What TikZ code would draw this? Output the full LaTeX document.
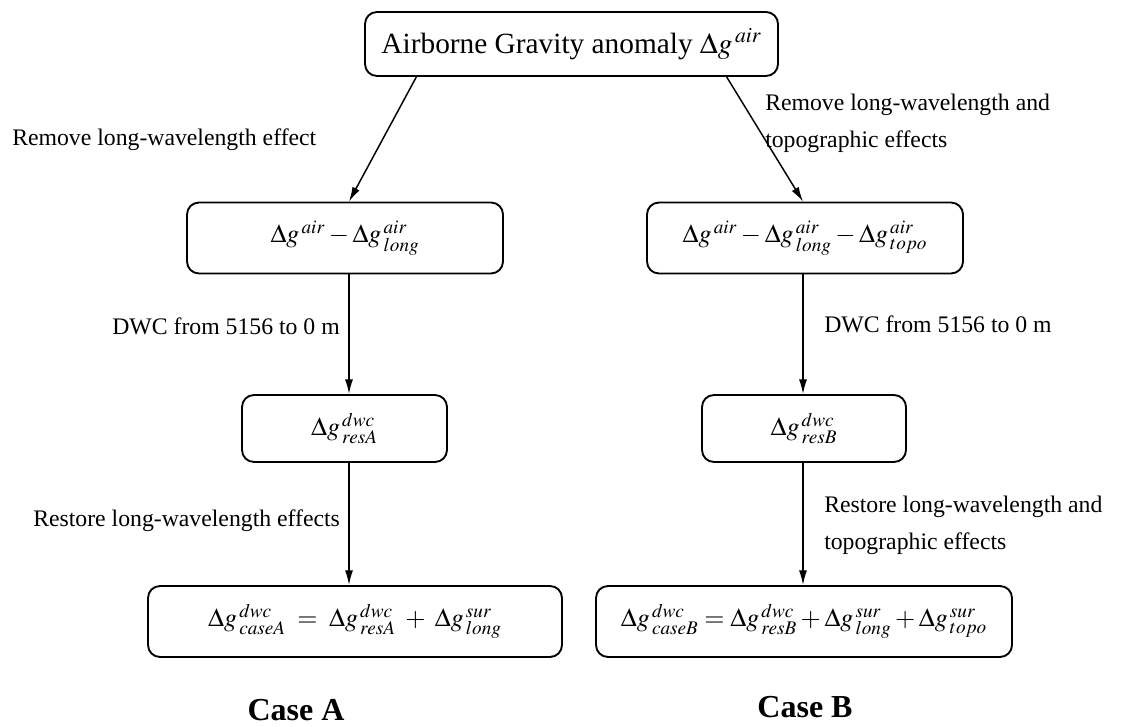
\documentclass[tikz,border=0pt]{standalone}
\usepackage{mathptmx}
\usepackage[no-math]{fontspec}
\setmainfont{Liberation Serif}
\usetikzlibrary{calc,arrows.meta}

\begin{document}
\begin{tikzpicture}[x=0.75pt,y=0.75pt,yscale=-1,
  box/.style={draw, line width=1.4pt, rounded corners=9pt, inner sep=0pt, font=\fontsize{19.5}{22}\selectfont},
  lbl/.style={inner sep=0pt, align=left, font=\fontsize{17.8}{27.5}\selectfont},
  case/.style={inner sep=0pt, font=\fontsize{24}{28}\selectfont\bfseries},
  flow/.style={-{Latex[length=11pt,width=6pt]}, line width=1.1pt}]
\path[use as bounding box] (0,0) rectangle (1122,727);

% boxes
\node[box, minimum width=309.75pt, minimum height=48pt, font=\fontsize{22}{26}\selectfont] (air) at (571.5,44) {Airborne Gravity anomaly $\Delta g^{\,air}$};
\node[box, minimum width=237pt, minimum height=53.25pt] (redA) at (345,238) {$\Delta g^{\,air}-\Delta g^{\,air}_{\,long}$};
\node[box, minimum width=237pt, minimum height=53.25pt] (redB) at (805,238) {$\Delta g^{\,air}-\Delta g^{\,air}_{\,long}-\Delta g^{\,air}_{\,topo}$};
\node[box, minimum width=153.75pt, minimum height=50.25pt] (resA) at (344.5,428.5) {$\Delta g^{\,dwc}_{\,resA}$};
\node[box, minimum width=153pt, minimum height=50.25pt] (resB) at (804,428.5) {$\Delta g^{\,dwc}_{\,resB}$};
\node[box, minimum width=310.5pt, minimum height=53.25pt] (caseA) at (355,621.5) {$\Delta g^{\,dwc}_{\,caseA}\;=\;\Delta g^{\,dwc}_{\,resA}\;+\;\Delta g^{\,sur}_{\,long}$};
\node[box, minimum width=312pt, minimum height=53.25pt] (caseB) at (804,621.5) {$\Delta g^{\,dwc}_{\,caseB}=\Delta g^{\,dwc}_{\,resB}+\Delta g^{\,sur}_{\,long}+\Delta g^{\,sur}_{\,topo}$};

% arrows
\coordinate (dA1) at ($(redA.south)+(4,0)$);
\coordinate (dB1) at ($(redB.south)+(-2,0)$);
\coordinate (dA2) at ($(resA.south)+(4.5,0)$);
\coordinate (dB2) at ($(resB.south)+(-1,0)$);
\draw[flow] ($(air.south west)!0.126!(air.south east)$) -- (dA1 |- redA.north);
\draw[flow] ($(air.south west)!0.874!(air.south east)$) -- (dB1 |- redB.north);
\draw[flow] (dA1) -- (dA1 |- resA.north);
\draw[flow] (dB1) -- (dB1 |- resB.north);
\draw[flow] (dA2) -- (dA2 |- caseA.north);
\draw[flow] (dB2) -- (dB2 |- caseB.north);

% step labels
\node[lbl, anchor=west] (remA) at (12,140) {Remove long-wavelength effect};
\node[lbl, anchor=west] (remB) at (765,123.5) {Remove long-wavelength and\\topographic effects};
\node[lbl, anchor=east] (dwcA) at (340,326) {DWC from 5156 to 0 m};
\node[lbl, anchor=west] (dwcB) at (824,324) {DWC from 5156 to 0 m};
\node[lbl, anchor=west] (resttA) at (33,521) {Restore long-wavelength effects};
\node[lbl, anchor=west] (resttB) at (824,525) {Restore long-wavelength and\\topographic effects};

% case titles
\node[case] (titleA) at (296,710) {Case A};
\node[case] (titleB) at (805,707) {Case B};

\end{tikzpicture}
\end{document}
